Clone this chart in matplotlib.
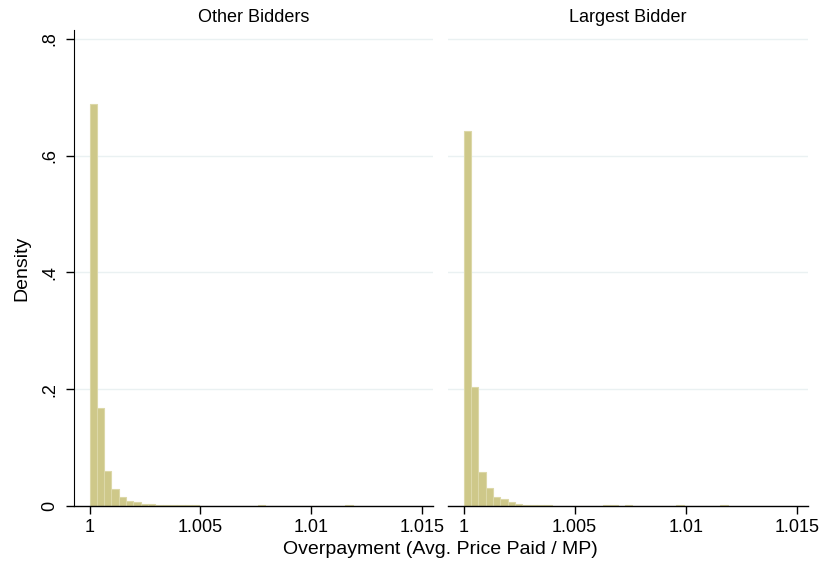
import numpy as np
import matplotlib.pyplot as plt

plt.rcParams["font.family"] = ["Liberation Sans", "DejaVu Sans"]

# histogram bins: start at 1, width
bin_start = 1.0
bin_width = 0.00033

other_density = [0.688, 0.168, 0.060, 0.029, 0.0155, 0.009, 0.007, 0.004,
                 0.004, 0.002, 0.0015, 0.0012, 0.001, 0.001, 0.001, 0.0008,
                 0.0008, 0.0008, 0.0008, 0.0008, 0.0008, 0.0, 0.0, 0.001,
                 0.0, 0.0, 0.0, 0.0, 0.0, 0.0, 0.0, 0.0, 0.0, 0.0, 0.0, 0.001]
largest_density = [0.642, 0.203, 0.058, 0.031, 0.0155, 0.0115, 0.0063, 0.0034,
                   0.002, 0.0015, 0.001, 0.001, 0.0008, 0.0008, 0.0008, 0.0008,
                   0.0008, 0.0008, 0.0, 0.001, 0.001, 0.0, 0.001, 0.0,
                   0.0, 0.0, 0.0, 0.0, 0.0, 0.001, 0.0, 0.0, 0.0, 0.0, 0.0, 0.001]

panel_titles = ["Other Bidders", "Largest Bidder"]
x_ticks = [1, 1.005, 1.01, 1.015]
x_ticklabels = ["1", "1.005", "1.01", "1.015"]
y_ticks = [0, 0.2, 0.4, 0.6, 0.8]
y_ticklabels = ["0", ".2", ".4", ".6", ".8"]

bar_fill = "#CEC889"
bar_edge = "#DCD8A8"
grid_col = "#EAF1F2"

fig = plt.figure(figsize=(8.19, 5.71), dpi=100)
ax1 = fig.add_axes([74 / 819, 65 / 571, 359 / 819, 476 / 571])
ax2 = fig.add_axes([448 / 819, 65 / 571, 360 / 819, 476 / 571])

for ax, dens, title in zip([ax1, ax2], [other_density, largest_density], panel_titles):
    dens = np.array(dens)
    lefts = bin_start + bin_width * np.arange(len(dens))
    ax.bar(lefts, dens, width=bin_width, align="edge",
           color=bar_fill, edgecolor=bar_edge, linewidth=0.8, zorder=2)
    ax.set_xlim(0.99930, 1.01550)
    ax.set_ylim(0, 0.8154)
    ax.set_yticks(y_ticks)
    for yv in y_ticks[1:]:
        ax.axhline(yv, color=grid_col, linewidth=1.0, zorder=0)
    ax.set_xticks(x_ticks)
    ax.set_xticklabels(x_ticklabels, fontsize=13)
    ax.tick_params(axis="x", length=6, width=1, pad=3, direction="out")
    ax.set_title(title, fontsize=13, pad=6)
    for side in ["top", "right"]:
        ax.spines[side].set_visible(False)
    ax.spines["bottom"].set_linewidth(1.0)

ax1.set_yticklabels(y_ticklabels, fontsize=13, rotation=90, va="center")
ax1.tick_params(axis="y", length=6, width=1, pad=5)
ax1.set_ylabel("Density", fontsize=14, labelpad=8)

ax2.spines["left"].set_visible(False)
ax2.tick_params(axis="y", left=False, labelleft=False)

fig.text(440 / 819, 1 - 550 / 571, "Overpayment (Avg. Price Paid / MP)",
         ha="center", va="center", fontsize=14)

fig.savefig("out.png", dpi=100, facecolor="white")
